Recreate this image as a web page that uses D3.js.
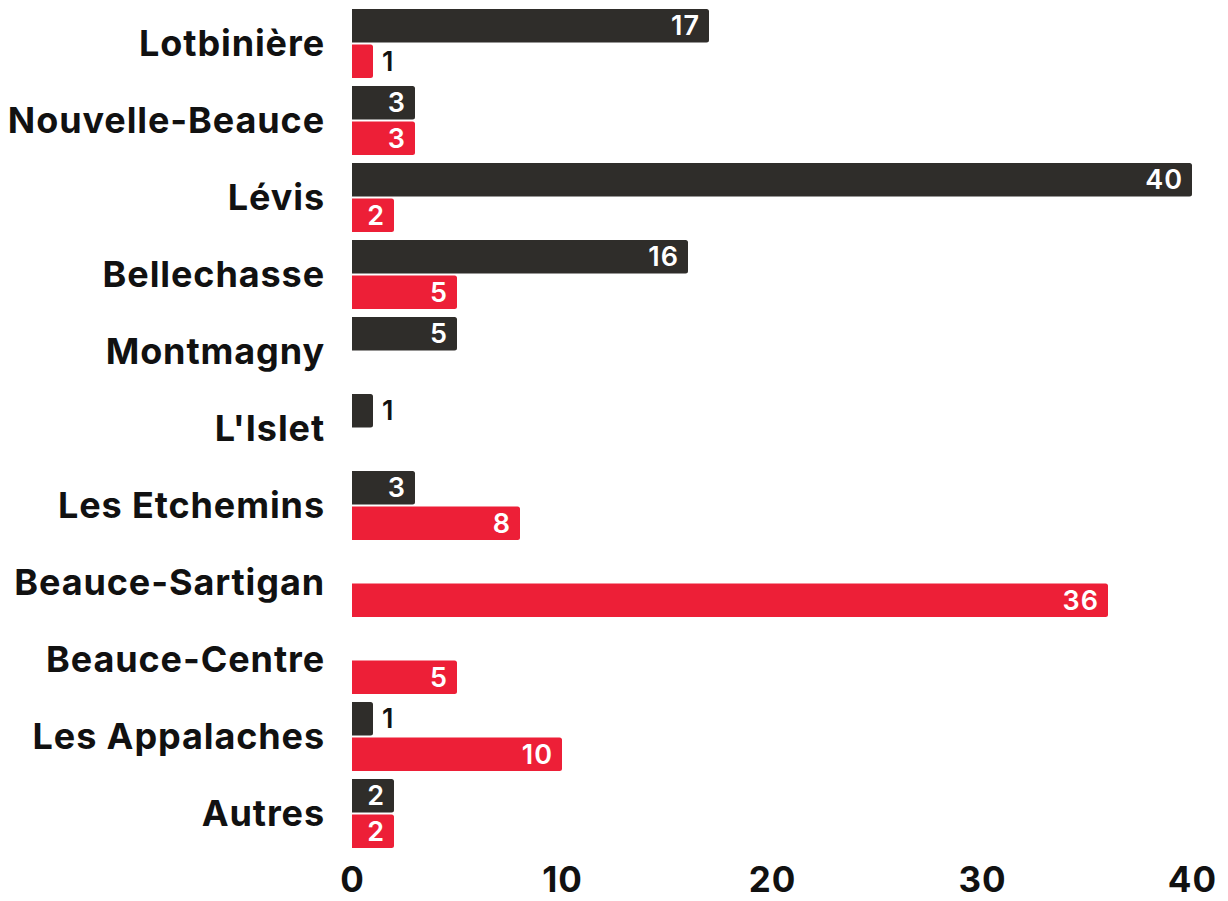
<!DOCTYPE html>
<html><head><meta charset="utf-8">
<script src="https://cdn.jsdelivr.net/npm/d3@7"></script>
<style>body{margin:0;background:#fff}svg{display:block}</style>
</head><body>
<svg id="chart" width="1228" height="901"></svg>
<script>
const categories = ["Lotbinière","Nouvelle-Beauce","Lévis","Bellechasse","Montmagny","L'Islet","Les Etchemins","Beauce-Sartigan","Beauce-Centre","Les Appalaches","Autres"];
const seriesDark = [17,3,40,16,5,1,3,null,null,1,2];
const seriesRed = [1,3,2,5,null,null,8,36,5,10,2];
const xTicks = [0,10,20,30,40];

const FONT = "Inter, 'Open Sans', sans-serif";
const svg = d3.select("#chart");
const x = d3.scaleLinear().domain([0,40]).range([352,1192]);
const y = d3.scaleBand().domain(categories).range([5,852]).paddingInner(0.104).paddingOuter(0.052);
const sub = d3.scaleBand().domain(["dark","red"]).range([0,y.bandwidth()]).paddingInner(0.06);
const colors = {dark:"#2f2d2a", red:"#ed1f37"};

const data = [];
categories.forEach((c,i)=>{
  if (seriesDark[i]!=null) data.push({cat:c,key:"dark",v:seriesDark[i]});
  if (seriesRed[i]!=null) data.push({cat:c,key:"red",v:seriesRed[i]});
});

function barPath(x0,y0,w,h,r){
  r=Math.min(r,w/2);
  return `M${x0},${y0}H${x0+w-r}Q${x0+w},${y0} ${x0+w},${y0+r}V${y0+h-r}Q${x0+w},${y0+h} ${x0+w-r},${y0+h}H${x0}Z`;
}

const g = svg.append("g");
g.selectAll("path.bar").data(data).join("path").attr("class","bar")
  .attr("d",d=>barPath(x(0), y(d.cat)+sub(d.key), x(d.v)-x(0), sub.bandwidth(), 2.5))
  .attr("fill",d=>colors[d.key]);

g.selectAll("text.val").data(data).join("text").attr("class","val")
  .attr("x",d=> d.v<2 ? x(d.v)+9 : x(d.v)-9)
  .attr("y",d=>y(d.cat)+sub(d.key)+sub.bandwidth()/2)
  .attr("dy","0.36em")
  .attr("text-anchor",d=>d.v<2?"start":"end")
  .attr("fill",d=>d.v<2?"#111":"#fff")
  .style("font-family",FONT).style("font-weight",600).style("font-size","27px")
  .style("letter-spacing","1px")
  .text(d=>d.v);

// category axis
const yAxis = d3.axisLeft(y).tickSize(0).tickPadding(0);
const ya = svg.append("g").attr("transform","translate(325,0)").call(yAxis);
ya.select(".domain").remove();
ya.selectAll("text").style("font-family",FONT).style("font-weight",700).style("font-size","36px")
  .style("letter-spacing","0.9px").attr("fill","#111").attr("dy","0.36em");

// x axis
const xAxis = d3.axisBottom(x).tickValues(xTicks).tickSize(0).tickPadding(0);
const xa = svg.append("g").attr("transform","translate(0,879)").call(xAxis);
xa.select(".domain").remove();
xa.selectAll("text").style("font-family",FONT).style("font-weight",700).style("font-size","35px")
  .style("letter-spacing","1px").attr("fill","#111").attr("dy","0.36em");
</script>
</body></html>
